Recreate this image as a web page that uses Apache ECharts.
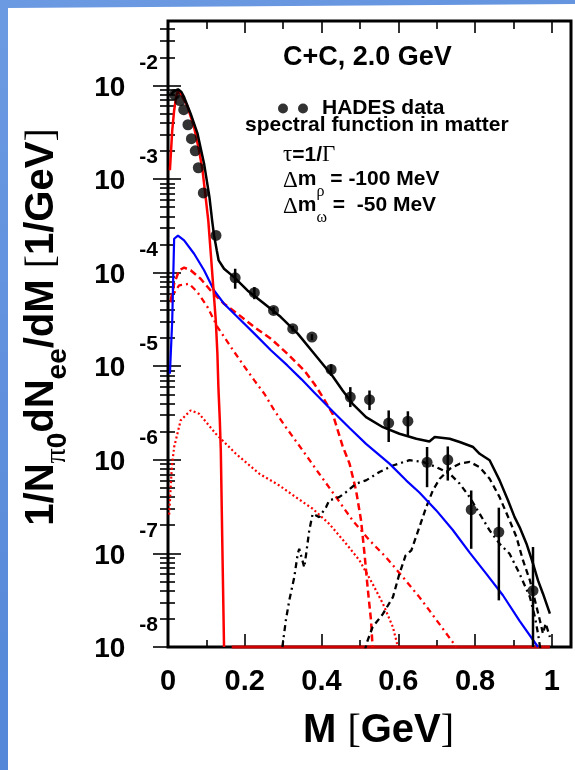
<!DOCTYPE html>
<html>
<head>
<meta charset="utf-8">
<title>C+C 2.0 GeV dielectron spectrum</title>
<script src="https://cdn.jsdelivr.net/npm/echarts@6.0.0/dist/echarts.min.js"></script>
<style>
  html, body { margin: 0; padding: 0; }
  body { width: 575px; height: 770px; position: relative; overflow: hidden;
         background: linear-gradient(160deg, #6c9ae2 0%, #4e82d6 100%); }
  #sheet { position: absolute; left: 0; top: 0; width: 575px; height: 770px; background: #fff;
           clip-path: polygon(8px 8px, 575px 4px, 575px 770px, 8px 770px); }
  #chart { position: absolute; left: 0; top: 0; width: 575px; height: 770px; }
</style>
</head>
<body>
<div id="sheet"></div>
<div id="chart"></div>
<script>
// ---- axis ranges and ticks ----
const X_MIN = 0, X_MAX = 1.05;
const Y_MIN = 1e-8, Y_MAX = 0.0488;
const xMajor = [0, 0.2, 0.4, 0.6, 0.8, 1.0];
const xMinor = [0.1, 0.3, 0.5, 0.7, 0.9];
const yDecades = [1e-8, 1e-7, 1e-6, 1e-5, 1e-4, 1e-3, 1e-2];

// ---- HADES data points: mass [GeV], yield, error band ----
const hadesMass  = [0.017, 0.031, 0.041, 0.052, 0.061, 0.071, 0.079, 0.092, 0.125, 0.175, 0.225, 0.275,
                    0.325, 0.375, 0.425, 0.475, 0.525, 0.575, 0.625, 0.675, 0.729, 0.790, 0.862, 0.951];
const hadesYield = [8.0e-3, 6.9e-3, 5.5e-3, 3.8e-3, 2.7e-3, 2.0e-3, 1.32e-3, 7.1e-4, 2.5e-4, 8.8e-5, 6.1e-5, 3.95e-5,
                    2.52e-5, 2.05e-5, 9.25e-6, 4.68e-6, 4.39e-6, 2.47e-6, 2.59e-6, 9.4e-7, 1.0e-6, 2.93e-7, 1.69e-7, 4.0e-8];
const hadesLow   = [8.0e-3, 6.9e-3, 5.5e-3, 3.8e-3, 2.7e-3, 2.0e-3, 1.32e-3, 7.1e-4, 2.5e-4, 6.73e-5, 5.2e-5, 3.6e-5,
                    2.35e-5, 1.9e-5, 7.9e-6, 3.66e-6, 3.4e-6, 1.55e-6, 1.8e-6, 5.1e-7, 6.0e-7, 1.12e-7, 3.15e-8, 5e-9];
const hadesHigh  = [8.0e-3, 6.9e-3, 5.5e-3, 3.8e-3, 2.7e-3, 2.0e-3, 1.32e-3, 7.1e-4, 2.5e-4, 1.10e-4, 7.0e-5, 4.3e-5,
                    2.7e-5, 2.2e-5, 1.05e-5, 5.98e-6, 5.5e-6, 3.37e-6, 3.3e-6, 1.37e-6, 1.39e-6, 4.7e-7, 3.08e-7, 1.17e-7];

// ---- model curves: [mass GeV, yield] ----
const totalCurve = [[0.008, 8.0e-3], [0.016, 8.7e-3], [0.026, 9.1e-3], [0.035, 8.5e-3], [0.042, 7.5e-3], [0.059, 5.0e-3],
  [0.077, 3.05e-3], [0.094, 1.46e-3], [0.108, 6.4e-4], [0.115, 3.6e-4], [0.120, 2.5e-4], [0.127, 1.73e-4], [0.132, 1.35e-4],
  [0.146, 1.10e-4], [0.172, 8.96e-5], [0.207, 6.45e-5], [0.251, 4.65e-5], [0.294, 3.35e-5], [0.338, 2.23e-5], [0.381, 1.36e-5],
  [0.429, 7.8e-6], [0.455, 5.5e-6], [0.481, 3.97e-6], [0.516, 2.86e-6], [0.560, 2.23e-6], [0.603, 1.90e-6], [0.647, 1.68e-6],
  [0.681, 1.57e-6], [0.695, 1.75e-6], [0.734, 1.68e-6], [0.760, 1.55e-6], [0.795, 1.37e-6], [0.812, 1.16e-6], [0.838, 9.9e-7],
  [0.864, 6.03e-7], [0.886, 3.68e-7], [0.903, 2.44e-7], [0.916, 1.91e-7], [0.934, 1.27e-7], [0.951, 7.8e-8], [0.964, 5.15e-8],
  [0.977, 3.71e-8], [0.995, 2.27e-8]];
const pi0Curve = [[0.005, 1.24e-3], [0.011, 3.3e-3], [0.016, 5.4e-3], [0.021, 7.5e-3], [0.026, 8.7e-3], [0.033, 8.15e-3],
  [0.050, 6.1e-3], [0.068, 3.58e-3], [0.081, 2.02e-3], [0.090, 1.24e-3], [0.098, 6.4e-4], [0.105, 3.6e-4], [0.1115, 1.59e-4],
  [0.118, 7.0e-5], [0.1245, 3.08e-5], [0.1287, 1.36e-5], [0.1313, 5.98e-6], [0.135, 2.64e-6], [0.1376, 1.26e-6],
  [0.1418, 1.08e-7], [0.146, 1.0e-8]];
const floorCurve = [[0.166, 1.0e-8], [0.995, 1.0e-8]];
const blueCurve = [[0.005, 8.3e-6], [0.011, 3.08e-5], [0.016, 2.30e-4], [0.026, 2.49e-4], [0.042, 2.21e-4], [0.068, 1.59e-4],
  [0.094, 1.06e-4], [0.120, 6.45e-5], [0.146, 4.65e-5], [0.181, 3.35e-5], [0.225, 2.23e-5], [0.268, 1.48e-5], [0.311, 1.02e-5],
  [0.348, 7.24e-6], [0.381, 5.25e-6], [0.429, 3.31e-6], [0.473, 2.19e-6], [0.516, 1.48e-6], [0.577, 9.1e-7], [0.621, 6.0e-7],
  [0.655, 4.47e-7], [0.699, 2.88e-7], [0.742, 1.78e-7], [0.786, 1.02e-7], [0.830, 6.0e-8], [0.873, 3.55e-8], [0.916, 1.9e-8],
  [0.964, 1.0e-8]];
const rhoCurve = [[0.007, 5.05e-5], [0.016, 7.6e-5], [0.029, 1.06e-4], [0.042, 1.13e-4], [0.059, 1.06e-4], [0.085, 8.6e-5],
  [0.111, 6.45e-5], [0.146, 4.65e-5], [0.181, 3.64e-5], [0.225, 2.62e-5], [0.268, 1.97e-5], [0.311, 1.36e-5], [0.355, 9.0e-6],
  [0.381, 6.5e-6], [0.403, 4.7e-6], [0.429, 3.1e-6], [0.455, 1.4e-6], [0.473, 9.1e-7], [0.490, 4.71e-7], [0.503, 2.25e-7],
  [0.512, 9.9e-8], [0.520, 4.37e-8], [0.529, 1.92e-8], [0.533, 1.0e-8]];
const redDashDotCurve = [[0.008, 4.8e-5], [0.011, 5.47e-5], [0.020, 6.45e-5], [0.029, 7.3e-5], [0.055, 7.6e-5], [0.0765, 6.2e-5],
  [0.103, 4.28e-5], [0.129, 2.62e-5], [0.164, 1.6e-5], [0.194, 1.06e-5], [0.225, 7.05e-6], [0.251, 5.08e-6], [0.277, 3.37e-6],
  [0.307, 2.23e-6], [0.351, 1.26e-6], [0.394, 7.1e-7], [0.438, 3.99e-7], [0.481, 2.25e-7], [0.525, 1.38e-7], [0.568, 9.1e-8],
  [0.612, 5.58e-8], [0.655, 3.41e-8], [0.681, 2.46e-8], [0.751, 1.0e-8]];
const redDottedCurve = [[0.003, 2.6e-7], [0.010, 8.4e-7], [0.016, 1.37e-6], [0.033, 2.64e-6], [0.059, 3.37e-6], [0.081, 3.11e-6],
  [0.1245, 1.90e-6], [0.177, 1.16e-6], [0.238, 7.1e-7], [0.290, 5.32e-7], [0.333, 3.99e-7], [0.377, 3.0e-7], [0.420, 2.07e-7],
  [0.464, 1.27e-7], [0.499, 8.4e-8], [0.533, 4.74e-8], [0.560, 2.9e-8], [0.586, 1.63e-8], [0.599, 1.0e-8]];
const blackDashDotCurve = [[0.298, 1.0e-8], [0.307, 1.92e-8], [0.316, 3.15e-8], [0.329, 5.58e-8], [0.338, 9.9e-8], [0.342, 1.12e-7],
  [0.355, 7.1e-8], [0.360, 9.9e-8], [0.368, 1.76e-7], [0.377, 2.65e-7], [0.394, 2.44e-7], [0.412, 3.13e-7], [0.420, 3.68e-7],
  [0.446, 3.99e-7], [0.464, 4.52e-7], [0.490, 5.56e-7], [0.516, 6.03e-7], [0.551, 7.4e-7], [0.586, 8.7e-7], [0.629, 9.9e-7],
  [0.664, 9.5e-7], [0.699, 8.36e-7], [0.734, 7.1e-7], [0.760, 5.56e-7], [0.786, 3.99e-7], [0.812, 2.65e-7], [0.838, 1.76e-7],
  [0.864, 1.27e-7], [0.890, 9.9e-8], [0.916, 6.07e-8], [0.943, 3.41e-8], [0.956, 2.09e-8], [0.964, 1.39e-8], [0.973, 8e-9]];
const blackDashedCurve = [[0.512, 9e-9], [0.520, 1.17e-8], [0.533, 1.63e-8], [0.560, 2.26e-8], [0.586, 3.41e-8], [0.603, 6.07e-8],
  [0.619, 9.5e-8], [0.634, 1.08e-7], [0.655, 1.91e-7], [0.673, 3.13e-7], [0.690, 4.71e-7], [0.708, 6.28e-7], [0.734, 8.0e-7],
  [0.760, 9.1e-7], [0.786, 9.5e-7], [0.812, 8.36e-7], [0.838, 6.28e-7], [0.864, 3.99e-7], [0.890, 2.25e-7], [0.908, 1.49e-7],
  [0.925, 8.4e-8], [0.943, 5.15e-8], [0.956, 3.15e-8], [0.969, 1.92e-8], [0.977, 1.39e-8], [0.984, 1.79e-8], [0.995, 1.28e-8]];

// ---- styling ----
const SANS = '"Liberation Sans", Arial, Helvetica, sans-serif';
const SERIF = '"Liberation Serif", "Times New Roman", serif';
const TWO_DOTS = 'path://M5,0A5,5,0,1,1,5,10A5,5,0,1,1,5,0ZM25,0A5,5,0,1,1,25,10A5,5,0,1,1,25,0Z';

// minor log ticks 2..9 x 10^n inside the range
const yMinor = [];
yDecades.forEach(d => {
  for (let m = 2; m <= 9; m++) {
    const v = +(m * d).toPrecision(3);
    if (v < Y_MAX) yMinor.push(v);
  }
});

const tickLine = { color: '#000', width: 1.6 };

function xAxisDef(position, values, len, extra) {
  return Object.assign({
    type: 'value', min: X_MIN, max: X_MAX, position: position,
    splitLine: { show: false }, axisLine: { show: false }, axisLabel: { show: false },
    axisTick: { show: true, inside: true, length: len, customValues: values, lineStyle: tickLine }
  }, extra || {});
}
function yAxisDef(position, values, len, extra) {
  return Object.assign({
    type: 'log', logBase: 10, min: Y_MIN, max: Y_MAX, position: position,
    splitLine: { show: false }, axisLine: { show: false }, axisLabel: { show: false },
    axisTick: { show: true, inside: true, length: len, customValues: values, lineStyle: tickLine }
  }, extra || {});
}

function lineSeries(name, data, color, type, width, clip) {
  return {
    type: 'line', name: name, data: data, symbol: 'none', silent: true, clip: clip !== false,
    lineStyle: { color: color, width: width || 2, type: type || 'solid' }, z: 3
  };
}

// rich styles for the "Δm_x = ..." annotation lines
const annotRich = {
  g: { fontSize: 23, fontFamily: SERIF, fill: '#000', lineHeight: 22, verticalAlign: 'top' },
  b: { fontSize: 21, fontWeight: 'bold', fontFamily: SANS, fill: '#000', lineHeight: 22, verticalAlign: 'top' },
  s: { fontSize: 16, fontFamily: SERIF, fill: '#000', lineHeight: 31, verticalAlign: 'bottom' }
};

const chart = echarts.init(document.getElementById('chart'), null, { renderer: 'canvas' });

chart.setOption({
  animation: false,
  backgroundColor: 'transparent',
  grid: {
    left: 168, top: 21, right: 4, bottom: 123,
    containLabel: false, outerBoundsMode: 'none',
    show: true, borderColor: '#000', borderWidth: 3, backgroundColor: '#fff'
  },
  legend: {
    data: [{ name: 'HADES data', icon: TWO_DOTS }],
    left: 278, top: 98, padding: 0, itemWidth: 30, itemHeight: 10, selectedMode: false,
    textStyle: { fontSize: 21, fontWeight: 'bold', fontFamily: SANS, color: '#000', padding: [0, 0, 4, 9] }
  },
  xAxis: [
    xAxisDef('bottom', xMajor, 13, {
      axisLabel: {
        show: true, customValues: xMajor, margin: 20,
        fontSize: 29, fontWeight: 'bold', fontFamily: SANS, color: '#000',
        formatter: v => (v === 0 || v === 1) ? String(v) : v.toFixed(1)
      },
      name: '{a|M }{k|[}{a|GeV}{k|]}',
      nameLocation: 'middle', nameGap: 64, nameMoveOverlap: false,
      nameTextStyle: {
        color: '#000', padding: [0, 0, 0, 18],
        rich: {
          a: { fontSize: 40, fontWeight: 'bold', fontFamily: SANS, color: '#000' },
          k: { fontSize: 40, fontFamily: SERIF, color: '#000' }
        }
      }
    }),
    xAxisDef('bottom', xMinor, 7),
    xAxisDef('top', xMajor, 12),
    xAxisDef('top', xMinor, 8)
  ],
  yAxis: [
    yAxisDef('left', yDecades, 13, {
      axisLabel: {
        show: true, customValues: yDecades, margin: 10, color: '#000',
        formatter: v => '{b|10}{e|' + Math.round(Math.log10(v)) + '}',
        rich: {
          b: { fontSize: 28, fontWeight: 'bold', fontFamily: SANS, color: '#000', lineHeight: 28,
               verticalAlign: 'bottom', padding: [0, 0, 16, 0] },
          e: { fontSize: 21, fontWeight: 'bold', fontFamily: SANS, color: '#000',
               verticalAlign: 'top', padding: [0, 0, 44, 14] }
        }
      },
      name: '{a|1/N}{p|π}{s|0}{a|dN}{s|ee}{a|/dM }{k|[}{a|1/GeV}{k|]}',
      nameLocation: 'middle', nameRotate: 90, nameGap: 96, nameMoveOverlap: false,
      nameTextStyle: {
        color: '#000', padding: [0, 0, 0, 14],
        rich: {
          a: { fontSize: 40, fontWeight: 'bold', fontFamily: SANS, color: '#000', lineHeight: 40, verticalAlign: 'top' },
          k: { fontSize: 40, fontFamily: SERIF, color: '#000', lineHeight: 40, verticalAlign: 'top' },
          s: { fontSize: 28, fontWeight: 'bold', fontFamily: SANS, color: '#000', lineHeight: 50, verticalAlign: 'bottom' },
          p: { fontSize: 30, fontFamily: SERIF, color: '#000', lineHeight: 50, verticalAlign: 'bottom' }
        }
      }
    }),
    yAxisDef('left', yMinor, 7),
    yAxisDef('right', yDecades, 15),
    yAxisDef('right', yMinor, 8)
  ],
  graphic: [
    { type: 'text', x: 283, y: 58, silent: true,
      style: { text: 'C+C, 2.0 GeV', font: 'bold 27px ' + SANS, fill: '#000', verticalAlign: 'middle' } },
    { type: 'text', x: 245, y: 125, silent: true,
      style: { text: 'spectral function in matter', font: 'bold 21px ' + SANS, fill: '#000', verticalAlign: 'middle' } },
    { type: 'text', x: 283, y: 155, silent: true,
      style: {
        text: '{g|τ}{b|=1/}{g|Γ}', verticalAlign: 'middle',
        rich: {
          g: { fontSize: 23, fontFamily: SERIF, fill: '#000' },
          b: { fontSize: 21, fontWeight: 'bold', fontFamily: SANS, fill: '#000' }
        }
      } },
    { type: 'text', x: 283, y: 169, silent: true,
      style: { text: '{g|Δ}{b|m}{s|ρ}{b| = -100 MeV}', verticalAlign: 'top', rich: annotRich } },
    { type: 'text', x: 283, y: 195, silent: true,
      style: { text: '{g|Δ}{b|m}{s|ω}{b| =  -50 MeV}', verticalAlign: 'top', rich: annotRich } }
  ],
  series: [
    lineSeries('floor', floorCurve, '#d00000', 'solid', 3, false),
    lineSeries('red dotted', redDottedCurve, '#ff0000', [2, 2.5], 2.2),
    lineSeries('red dash-dot', redDashDotCurve, '#ff0000', [6, 4, 2, 4], 2.3),
    lineSeries('rho', rhoCurve, '#ff0000', [7, 4], 2.5),
    lineSeries('black dash-dot', blackDashDotCurve, '#000000', [6, 4, 2, 4], 2.3),
    lineSeries('black dashed', blackDashedCurve, '#000000', [6, 4], 2.3),
    lineSeries('blue', blueCurve, '#0000ff', 'solid', 2.2),
    lineSeries('pi0', pi0Curve, '#ff0000', 'solid', 2.5),
    lineSeries('total', totalCurve, '#000000', 'solid', 2.5),
    {
      type: 'custom', name: 'HADES errors', silent: true, clip: true, z: 4,
      data: hadesMass.map((m, i) => [m, hadesLow[i], hadesHigh[i]]),
      encode: { x: 0, y: [1, 2] },
      renderItem: (params, api) => {
        const p1 = api.coord([api.value(0), api.value(1)]);
        const p2 = api.coord([api.value(0), api.value(2)]);
        return { type: 'line', shape: { x1: p1[0], y1: p1[1], x2: p2[0], y2: p2[1] },
                 style: { stroke: '#000', lineWidth: 2.5 } };
      }
    },
    {
      type: 'scatter', name: 'HADES data', symbol: 'circle', symbolSize: 11, z: 5,
      itemStyle: { color: '#000' },
      data: hadesMass.map((m, i) => [m, hadesYield[i]])
    }
  ]
});
</script>
</body>
</html>
